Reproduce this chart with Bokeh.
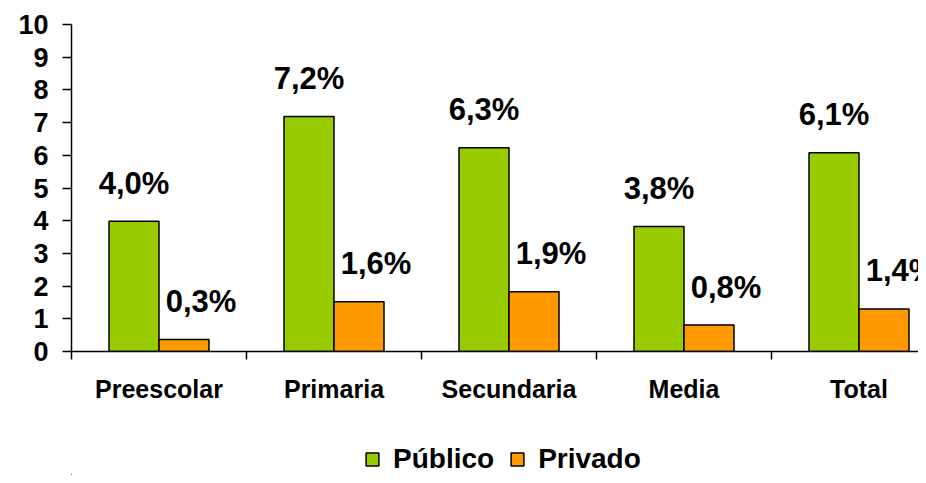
from bokeh.plotting import figure
from bokeh.models import Range1d, FixedTicker, Legend, LegendItem, ColumnDataSource
from bokeh.layouts import column
from bokeh.core.properties import value
from bokeh.embed import file_html
from bokeh.resources import INLINE

categories = ["Preescolar", "Primaria", "Secundaria", "Media", "Total"]
publico = [3.98, 7.19, 6.23, 3.82, 6.08]
privado = [0.37, 1.52, 1.83, 0.81, 1.3]
publico_labels = ["4,0%", "7,2%", "6,3%", "3,8%", "6,1%"]
privado_labels = ["0,3%", "1,6%", "1,9%", "0,8%", "1,4%"]
series_names = ["Público", "Privado"]
y_ticks = [0, 1, 2, 3, 4, 5, 6, 7, 8, 9, 10]

FONT = value("Liberation Sans")
GREEN = "#99CC00"
ORANGE = "#FF9900"

centers = [i + 0.5 for i in range(len(categories))]
bw = 0.2857

src_pub = ColumnDataSource(dict(x=[c - bw / 2 for c in centers], top=publico, lab=publico_labels))
src_pri = ColumnDataSource(dict(x=[c + bw / 2 for c in centers], top=privado, lab=privado_labels))

p = figure(width=918, height=427, output_backend="svg", toolbar_location=None,
           x_range=Range1d(0, 4.84), y_range=Range1d(0, 10),
           min_border_left=71, min_border_right=0, min_border_top=24, min_border_bottom=76)
p.outline_line_color = None
p.grid.visible = False

p.vbar(x="x", top="top", width=bw, bottom=0, source=src_pub,
       fill_color=GREEN, line_color="black", line_width=1.5)
p.vbar(x="x", top="top", width=bw, bottom=0, source=src_pri,
       fill_color=ORANGE, line_color="black", line_width=1.5)

p.text(x="x", y="top", text="lab", source=src_pub, text_font=FONT, text_font_style="bold",
       text_font_size="31px", text_align="center", text_baseline="alphabetic",
       y_offset=-38, x_offset=0, text_color="black")
p.text(x="x", y="top", text="lab", source=src_pri, text_font=FONT, text_font_style="bold",
       text_font_size="31px", text_align="center", text_baseline="alphabetic",
       y_offset=-38, x_offset=17, text_color="black")

# x axis
xa = p.xaxis[0]
xa.ticker = FixedTicker(ticks=centers, minor_ticks=list(range(len(categories) + 1)))
xa.major_label_overrides = {c: cat for c, cat in zip(centers, categories)}
xa.major_tick_out = 0
xa.major_tick_in = 0
xa.minor_tick_out = 8
xa.minor_tick_in = 0
xa.minor_tick_line_color = "black"
xa.minor_tick_line_width = 1.5
xa.axis_line_color = "black"
xa.axis_line_width = 1.5
xa.major_label_text_font = "Liberation Sans"
xa.major_label_text_font_style = "bold"
xa.major_label_text_font_size = "25px"
xa.major_label_text_color = "black"
xa.major_label_standoff = 15

# y axis
ya = p.yaxis[0]
ya.ticker = FixedTicker(ticks=y_ticks)
ya.major_tick_out = 9
ya.major_tick_in = 0
ya.minor_tick_out = 0
ya.minor_tick_in = 0
ya.major_tick_line_color = "black"
ya.major_tick_line_width = 1.5
ya.axis_line_color = "black"
ya.axis_line_width = 1.5
ya.major_label_text_font = "Liberation Sans"
ya.major_label_text_font_style = "bold"
ya.major_label_text_font_size = "27px"
ya.major_label_text_color = "black"
ya.major_label_standoff = 14

# legend strip below the chart (series renderers kept out of view)
q = figure(width=918, height=48, output_backend="svg", toolbar_location=None,
           x_axis_type=None, y_axis_type=None, x_range=Range1d(100, 101), y_range=Range1d(100, 101),
           min_border=0)
q.outline_line_color = None
q.grid.visible = False
l1 = q.vbar(x="x", top="top", width=bw, source=src_pub,
            fill_color=GREEN, line_color="black", line_width=1.5)
l2 = q.vbar(x="x", top="top", width=bw, source=src_pri,
            fill_color=ORANGE, line_color="black", line_width=1.5)
legend = Legend(items=[LegendItem(label=series_names[0], renderers=[l1]),
                       LegendItem(label=series_names[1], renderers=[l2])],
                orientation="horizontal", location=(293, 0),
                glyph_width=16, glyph_height=16, label_standoff=13, spacing=15,
                padding=0, margin=0, border_line_color=None, background_fill_alpha=0,
                label_text_font="Liberation Sans", label_text_font_style="bold",
                label_text_font_size="28px", label_text_color="black",
                label_height=18)
q.add_layout(legend, "center")

open("out.html", "w").write(file_html(column(p, q, spacing=0), INLINE))
